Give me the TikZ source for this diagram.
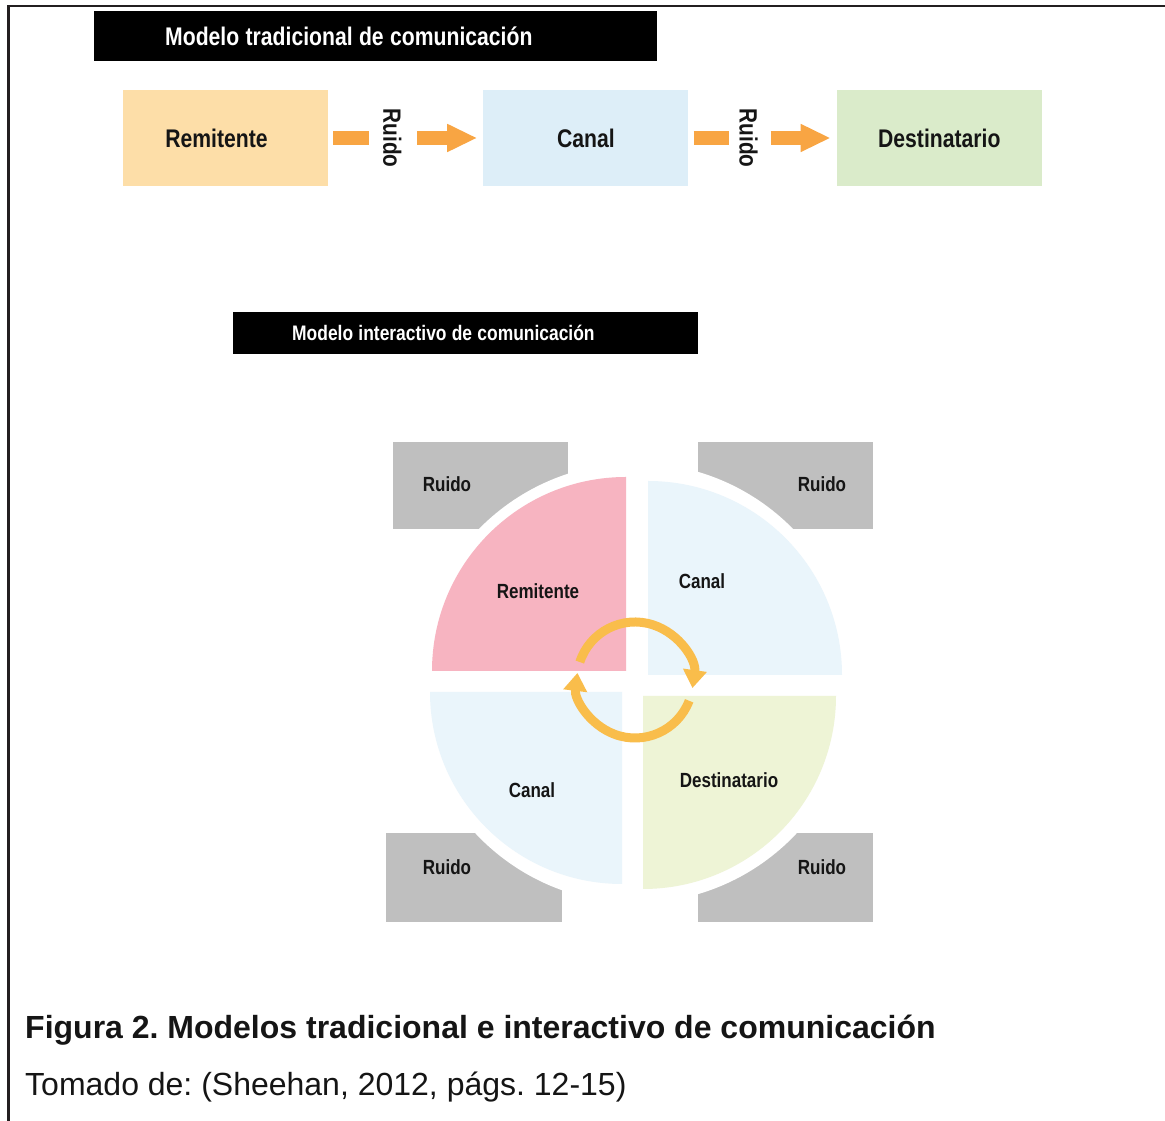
\documentclass[tikz,border=0pt]{standalone}
\usepackage{fontspec}
\setmainfont{Liberation Sans}
\newfontfamily\narrowfont{Liberation Sans}[FakeStretch=0.83]
\usetikzlibrary{arrows.meta,positioning}
\definecolor{ink}{HTML}{151515}
\definecolor{framecol}{HTML}{231F20}
\definecolor{sendfill}{HTML}{FDDEA8}
\definecolor{chanfill}{HTML}{DDEEF8}
\definecolor{recvfill}{HTML}{DAEBCA}
\definecolor{flowcol}{HTML}{F8A543}
\definecolor{noisegray}{HTML}{BFBFBF}
\definecolor{pinkfill}{HTML}{F7B4C1}
\definecolor{paleblue}{HTML}{EAF5FB}
\definecolor{palegreen}{HTML}{EEF4D6}
\definecolor{loopcol}{HTML}{F9BD4B}
\frenchspacing
\begin{document}
\begin{tikzpicture}[x=1pt,y=1pt,
    banner/.style={fill=black,text=white,align=left,inner ysep=0pt,
      font=\narrowfont\bfseries\fontsize{#1}{#1}\selectfont,
      execute at begin node={\spaceskip=0.25em\relax}},
    stage/.style={minimum width=205pt,minimum height=96pt,inner sep=0pt,text=ink,
      font=\narrowfont\bfseries\fontsize{25.5}{30}\selectfont},
    noise/.style={inner sep=0pt,text=ink,rotate=-90,
      font=\narrowfont\bfseries\fontsize{25}{30}\selectfont},
    bar/.style={draw=flowcol,line width=14pt},
    flow/.style={draw=flowcol,line width=14pt,-{Triangle[length=30pt 0 0,width=26pt 0 0]}},
    lbl/.style={inner sep=0pt,text=ink,font=\narrowfont\bfseries\fontsize{20.5}{24}\selectfont},
    loop/.style={draw=loopcol,line width=9pt,-{Triangle[length=18pt 0 0,width=23pt 0 0]}},
    caption/.style={anchor=base west,inner sep=0pt,text=ink,font=\fontsize{32}{38}\selectfont}]
  \useasboundingbox (0,0) rectangle (1165,1121);
  \draw[framecol,line width=2.5pt] (1165,1115) -- (8.5,1115) -- (8.5,0);

  % traditional model
  \node[banner=25.5,text width=421pt,inner xsep=71pt,minimum height=50pt,anchor=north west]
    (trad) at (94,1110) {Modelo tradicional de comunicación};
  \node[stage,fill=sendfill] (rem) at (225.5,983) {Remitente\hspace*{18pt}};
  \node[stage,fill=chanfill,right=155pt of rem] (can) {Canal};
  \node[stage,fill=recvfill,right=148pt of can] (dest) {Destinatario};
  \node[noise] (r1) at ([xshift=64pt]rem.east) {Ruido};
  \node[noise] (r2) at ([xshift=60pt]can.east) {Ruido};
  \draw[bar] ([xshift=5pt]rem.east) -- ++(36pt,0);
  \draw[flow] ([xshift=-66pt]can.west) -- ([xshift=-6pt]can.west);
  \draw[bar] ([xshift=5pt]can.east) -- ++(35pt,0);
  \draw[flow] ([xshift=-66pt]dest.west) -- ([xshift=-6pt]dest.west);

  % interactive model
  \node[banner=21,text width=347pt,inner xsep=59pt,minimum height=42pt,anchor=north west]
    (inter) at (233,809) {Modelo interactivo de comunicación};
  \coordinate (c) at (636,438);
  \coordinate (hub) at (635,441);
  \fill[noisegray] (393,679) rectangle (568,592);
  \fill[noisegray] (698,679) rectangle (873,592);
  \fill[noisegray] (386,288) rectangle (562,199);
  \fill[noisegray] (698,288) rectangle (873,199);
  \fill[white] (c) circle[radius=220];
  \fill[pinkfill] (626,450) -- ++(-194,0) arc[start angle=180,end angle=90,radius=194] -- cycle;
  \fill[paleblue] (648,446) -- ++(0,194) arc[start angle=90,end angle=0,radius=194] -- cycle;
  \fill[paleblue] (622,429) -- ++(-192,0) arc[start angle=180,end angle=270,radius=192] -- cycle;
  \fill[palegreen] (643,425) -- ++(193,0) arc[start angle=0,end angle=-90,radius=193] -- cycle;
  \node[lbl] (n1) at (447,637) {Ruido};
  \node[lbl] (n2) at (822,637) {Ruido};
  \node[lbl] (n3) at (447,254) {Ruido};
  \node[lbl] (n4) at (822,254) {Ruido};
  \node[lbl] (sender) at (538,530) {Remitente};
  \node[lbl] (chan1) at (702,540) {Canal};
  \node[lbl] (chan2) at (532,331) {Canal};
  \node[lbl] (receiver) at (729,341) {Destinatario};
  \draw[loop] ([shift={(162:58)}]hub) arc[start angle=162,end angle=-8,radius=58];
  \draw[loop] ([shift={(-21:58)}]hub) arc[start angle=-21,end angle=-187,radius=58];

  % caption
  \node[caption,font=\bfseries\fontsize{32}{38}\selectfont] (fig) at (25,82)
    {Figura 2. Modelos tradicional e interactivo de comunicación};
  \node[caption] (src) at (25,25) {Tomado de: (Sheehan, 2012, págs. 12-15)};
\end{tikzpicture}
\end{document}
